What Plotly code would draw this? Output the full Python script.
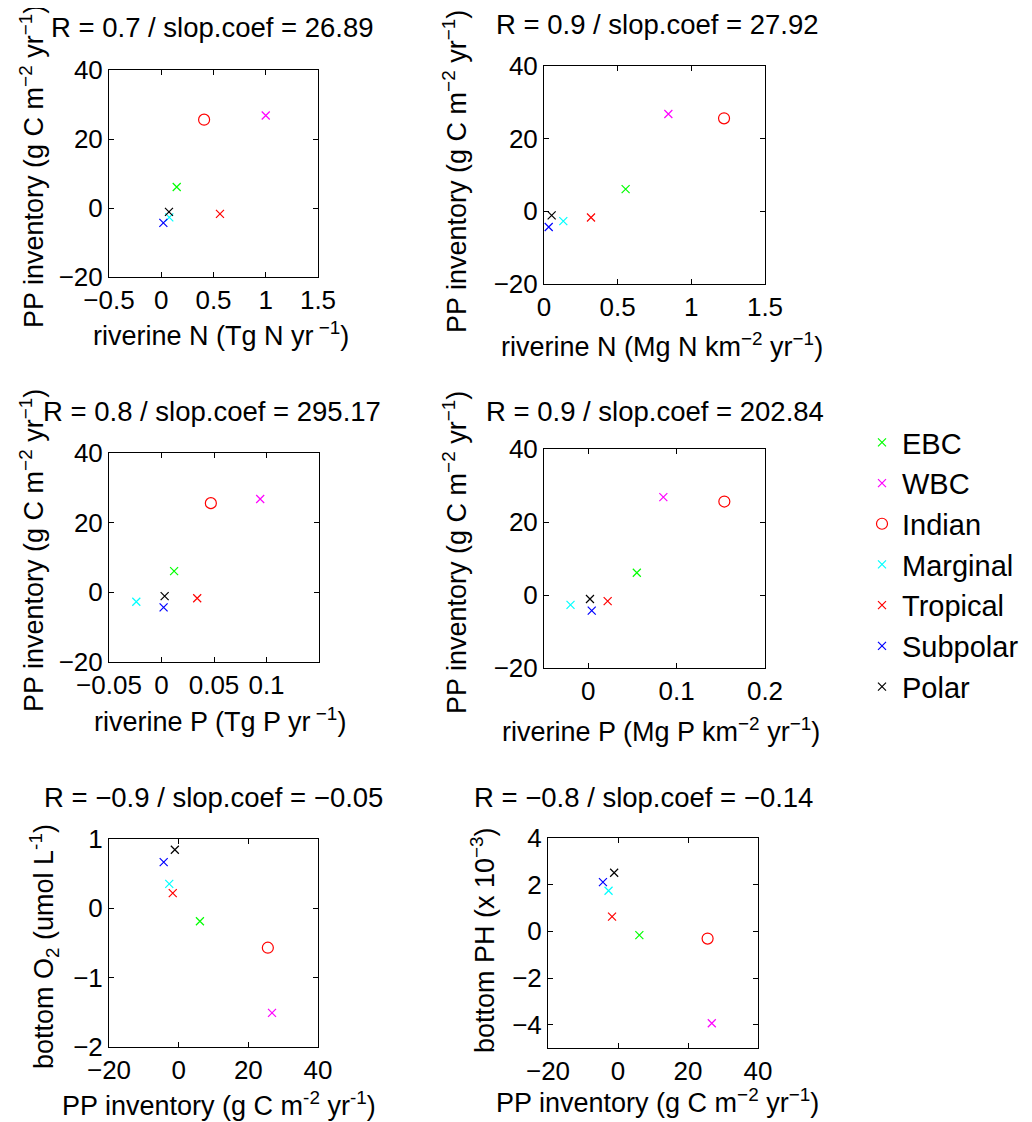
import plotly.graph_objects as go

# The page body adds an 8px margin, so the figure is sized to fill the rest of the window
OFF = 8
W, H = 1032 - OFF, 1122 - OFF

categories = ["EBC", "WBC", "Indian", "Marginal", "Tropical", "Subpolar", "Polar"]
colors = ["#00ff00", "#ff00ff", "#ff0000", "#00ffff", "#ff0000", "#0000ff", "#000000"]
symbols = ["x-thin-open", "x-thin-open", "circle-open", "x-thin-open", "x-thin-open", "x-thin-open", "x-thin-open"]

# PP inventory (g C m-2 yr-1)
pp_inventory = [6.1, 26.8, 25.6, -2.7, -1.7, -4.3, -1.1]
# riverine N (Tg N yr-1)
riverine_n_tg = [0.148, 1.0, 0.41, 0.077, 0.562, 0.02, 0.074]
# riverine N (Mg N km-2 yr-1)
riverine_n_mg = [0.554, 0.844, 1.222, 0.131, 0.319, 0.032, 0.052]
# riverine P (Tg P yr-1)
riverine_p_tg = [0.012, 0.094, 0.047, -0.024, 0.034, 0.002, 0.003]
# riverine P (Mg P km-2 yr-1)
riverine_p_mg = [0.055, 0.085, 0.154, -0.020, 0.022, 0.004, 0.002]
# bottom O2 (umol L-1)
bottom_o2 = [-0.186, -1.508, -0.568, 0.353, 0.219, 0.667, 0.845]
# bottom PH (x 10^-3)
bottom_ph = [-0.16, -3.94, -0.31, 1.74, 0.63, 2.11, 2.51]

titles = [
    "R = 0.7 / slop.coef = 26.89",
    "R = 0.9 / slop.coef = 27.92",
    "R = 0.8 / slop.coef = 295.17",
    "R = 0.9 / slop.coef = 202.84",
    "R = \u22120.9 / slop.coef = \u22120.05",
    "R = \u22120.8 / slop.coef = \u22120.14",
]
xtitles = [
    "riverine N (Tg N yr<sup> \u22121</sup>)",
    "riverine N (Mg N km<sup>\u22122</sup> yr<sup>\u22121</sup>)",
    "riverine P (Tg P yr<sup> \u22121</sup>)",
    "riverine P (Mg P km<sup>\u22122</sup> yr<sup>\u22121</sup>)",
    "PP inventory (g C m<sup>-2</sup> yr<sup>-1</sup>)",
    "PP inventory (g C m<sup>\u22122</sup> yr<sup>\u22121</sup>)",
]
pp_label = "PP inventory (g C m<sup>\u22122</sup> yr<sup>\u22121</sup>)"
ytitles = [pp_label, pp_label, pp_label, pp_label,
           "bottom O<sub>2</sub> (umol L<sup>-1</sup>)",
           "bottom PH (x 10<sup>\u22123</sup>)"]

panels_x = [riverine_n_tg, riverine_n_mg, riverine_p_tg, riverine_p_mg, pp_inventory, pp_inventory]
panels_y = [pp_inventory, pp_inventory, pp_inventory, pp_inventory, bottom_o2, bottom_ph]

x_ranges = [[-0.5, 1.5], [0, 1.5], [-0.05, 0.15], [-0.05, 0.2], [-20, 40], [-20, 40]]
x_ticks = [[-0.5, 0, 0.5, 1, 1.5], [0, 0.5, 1, 1.5], [-0.05, 0, 0.05, 0.1], [0, 0.1, 0.2],
           [-20, 0, 20, 40], [-20, 0, 20, 40]]
y_ranges = [[-20, 40], [-20, 40], [-20, 40], [-20, 40], [-2, 1], [-5, 4]]
y_ticks = [[-20, 0, 20, 40]] * 4 + [[-2, -1, 0, 1], [-4, -2, 0, 2, 4]]

# layout geometry (screen pixels)
boxes = [(109, 318, 70, 277), (544, 765, 66, 284), (109, 319, 453, 662),
         (544, 765, 449, 668), (109, 318, 839, 1047), (548, 758, 838, 1048)]
title_pos = [(212, 28), (657, 25), (212, 412), (655, 412), (213, 797), (643, 797)]
xtitle_pos = [(221, 334), (662, 345), (220, 720), (661, 730), (219, 1104), (657, 1101)]
ytitle_pos = [(32, 167), (455, 172), (32, 551), (455, 553), (44, 947), (483, 940)]


def fx(px):
    return (px - OFF) / W


def fy(py):
    return 1 - (py - OFF) / H


FONT = "Liberation Sans, Arial, Helvetica, sans-serif"

fig = go.Figure()
for p in range(6):
    sfx = "" if p == 0 else str(p + 1)
    for i, cat in enumerate(categories):
        fig.add_trace(go.Scatter(
            x=[panels_x[p][i]], y=[panels_y[p][i]],
            mode="markers", name=cat, legendgroup=cat, showlegend=(p == 0),
            marker=dict(symbol=symbols[i], color=colors[i],
                        size=11 if symbols[i] == "circle-open" else 8,
                        line=dict(width=1.2, color=colors[i])),
            xaxis="x" + sfx, yaxis="y" + sfx,
        ))

layout = dict(
    width=W, height=H,
    margin=dict(l=0, r=0, t=0, b=0, autoexpand=False),
    paper_bgcolor="white", plot_bgcolor="white",
    font=dict(family=FONT, size=26, color="black"),
    showlegend=True,
    legend=dict(x=fx(862), y=fy(417), xanchor="left", yanchor="top",
                xref="container", yref="container",
                font=dict(size=29, family=FONT), bgcolor="rgba(0,0,0,0)",
                tracegroupgap=0, itemsizing="trace"),
)
annotations = []
for p in range(6):
    sfx = "" if p == 0 else str(p + 1)
    l, r, t, b = boxes[p]
    axstyle = dict(showline=True, linecolor="black", linewidth=1, mirror="ticks",
                   ticks="inside", ticklen=5, tickcolor="black", showgrid=False,
                   zeroline=False, automargin=False, tickfont=dict(size=26, family=FONT))
    layout["xaxis" + sfx] = dict(domain=[fx(l), fx(r)], range=x_ranges[p],
                                 tickvals=x_ticks[p], anchor="y" + sfx, **axstyle)
    layout["yaxis" + sfx] = dict(domain=[fy(b), fy(t)], range=y_ranges[p],
                                 tickvals=y_ticks[p], anchor="x" + sfx, **axstyle)
    tx, ty = title_pos[p]
    annotations.append(dict(text=titles[p], x=fx(tx), y=fy(ty), xref="paper", yref="paper",
                            showarrow=False, xanchor="center", yanchor="middle",
                            font=dict(size=27.5, family=FONT)))
    xx, xy = xtitle_pos[p]
    annotations.append(dict(text=xtitles[p], x=fx(xx), y=fy(xy), xref="paper", yref="paper",
                            showarrow=False, xanchor="center", yanchor="middle",
                            font=dict(size=27, family=FONT)))
    yx, yy = ytitle_pos[p]
    annotations.append(dict(text=ytitles[p], x=fx(yx), y=fy(yy), xref="paper", yref="paper",
                            showarrow=False, xanchor="center", yanchor="middle", textangle=-90,
                            font=dict(size=27, family=FONT)))
layout["annotations"] = annotations
fig.update_layout(**layout)
fig.write_html("out.html")
